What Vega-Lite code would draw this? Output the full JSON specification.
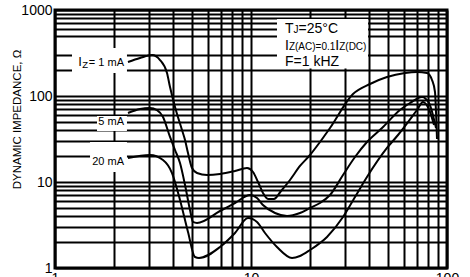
{
  "$schema": "https://vega.github.io/schema/vega-lite/v6.json",
  "width": 392,
  "height": 258,
  "autosize": "none",
  "padding": {"left": 55, "top": 10, "right": 23, "bottom": 9},
  "background": "white",
  "config": {
    "font": "Liberation Sans",
    "view": {"stroke": "black", "strokeWidth": 3},
    "axis": {
      "gridColor": "black", "gridWidth": 2, "gridOpacity": 1,
      "domain": false, "ticks": false,
      "labelFont": "Liberation Sans", "labelFontSize": 14, "labelColor": "black",
      "labelPadding": 3, "labelOverlap": false, "labelFlush": false
    }
  },
  "datasets": {
    "curves": [
      {"series": "1mA", "v": 2.357, "z": 248.5}, {"series": "1mA", "v": 2.715, "z": 276.6}, {"series": "1mA", "v": 3.126, "z": 299.7},
      {"series": "1mA", "v": 3.434, "z": 262.1}, {"series": "1mA", "v": 3.728, "z": 185.1}, {"series": "1mA", "v": 3.862, "z": 127.2},
      {"series": "1mA", "v": 4.096, "z": 74.5}, {"series": "1mA", "v": 4.446, "z": 40.2}, {"series": "1mA", "v": 4.607, "z": 30.8},
      {"series": "1mA", "v": 4.771, "z": 21.7}, {"series": "1mA", "v": 5.0, "z": 14.55}, {"series": "1mA", "v": 5.303, "z": 12.72},
      {"series": "1mA", "v": 5.965, "z": 12.06}, {"series": "1mA", "v": 6.948, "z": 12.39}, {"series": "1mA", "v": 8.286, "z": 13.43},
      {"series": "1mA", "v": 9.541, "z": 14.55}, {"series": "1mA", "v": 10.24, "z": 13.07}, {"series": "1mA", "v": 10.86, "z": 10.0},
      {"series": "1mA", "v": 11.51, "z": 7.45}, {"series": "1mA", "v": 12.21, "z": 6.35}, {"series": "1mA", "v": 13.1, "z": 6.35},
      {"series": "1mA", "v": 14.23, "z": 7.86}, {"series": "1mA", "v": 15.81, "z": 10.55}, {"series": "1mA", "v": 17.78, "z": 15.35},
      {"series": "1mA", "v": 20.0, "z": 20.6}, {"series": "1mA", "v": 22.49, "z": 29.18}, {"series": "1mA", "v": 25.3, "z": 42.46},
      {"series": "1mA", "v": 33.14, "z": 105.5}, {"series": "1mA", "v": 40.47, "z": 137.9}, {"series": "1mA", "v": 49.41, "z": 166.3},
      {"series": "1mA", "v": 61.06, "z": 185.1}, {"series": "1mA", "v": 70.29, "z": 190.2}, {"series": "1mA", "v": 79.07, "z": 185.1},
      {"series": "1mA", "v": 83.85, "z": 153.5}, {"series": "1mA", "v": 86.86, "z": 111.3}, {"series": "1mA", "v": 87.88, "z": 65.2},
      {"series": "1mA", "v": 88.92, "z": 31.6},
      {"series": "5mA", "v": 2.357, "z": 63.4}, {"series": "5mA", "v": 2.715, "z": 70.6}, {"series": "5mA", "v": 3.052, "z": 72.5},
      {"series": "5mA", "v": 3.314, "z": 68.7}, {"series": "5mA", "v": 3.556, "z": 57.0}, {"series": "5mA", "v": 3.862, "z": 33.4},
      {"series": "5mA", "v": 4.096, "z": 23.56}, {"series": "5mA", "v": 4.343, "z": 16.63}, {"series": "5mA", "v": 4.607, "z": 9.23},
      {"series": "5mA", "v": 4.884, "z": 4.73}, {"series": "5mA", "v": 5.059, "z": 3.43}, {"series": "5mA", "v": 5.303, "z": 3.34},
      {"series": "5mA", "v": 6.948, "z": 4.6}, {"series": "5mA", "v": 8.286, "z": 5.7}, {"series": "5mA", "v": 9.884, "z": 7.06},
      {"series": "5mA", "v": 10.73, "z": 6.52}, {"series": "5mA", "v": 11.51, "z": 5.4}, {"series": "5mA", "v": 13.26, "z": 4.36},
      {"series": "5mA", "v": 15.27, "z": 4.02}, {"series": "5mA", "v": 17.78, "z": 4.36}, {"series": "5mA", "v": 20.0, "z": 4.99},
      {"series": "5mA", "v": 22.49, "z": 5.7}, {"series": "5mA", "v": 25.3, "z": 7.06}, {"series": "5mA", "v": 29.47, "z": 12.06},
      {"series": "5mA", "v": 33.93, "z": 19.53}, {"series": "5mA", "v": 39.06, "z": 29.18}, {"series": "5mA", "v": 46.6, "z": 42.46},
      {"series": "5mA", "v": 57.56, "z": 68.7}, {"series": "5mA", "v": 64.75, "z": 82.9}, {"series": "5mA", "v": 74.55, "z": 97.4},
      {"series": "5mA", "v": 80.94, "z": 82.9}, {"series": "5mA", "v": 87.88, "z": 42.46},
      {"series": "20mA", "v": 2.357, "z": 19.01}, {"series": "20mA", "v": 3.052, "z": 20.6}, {"series": "20mA", "v": 3.556, "z": 18.03},
      {"series": "20mA", "v": 3.954, "z": 12.72}, {"series": "20mA", "v": 4.343, "z": 6.18}, {"series": "20mA", "v": 4.771, "z": 2.62},
      {"series": "20mA", "v": 5.179, "z": 1.342}, {"series": "20mA", "v": 5.429, "z": 1.307}, {"series": "20mA", "v": 6.948, "z": 1.755},
      {"series": "20mA", "v": 8.286, "z": 2.553}, {"series": "20mA", "v": 9.654, "z": 3.815}, {"series": "20mA", "v": 10.73, "z": 3.43},
      {"series": "20mA", "v": 11.79, "z": 2.553}, {"series": "20mA", "v": 13.57, "z": 1.755}, {"series": "20mA", "v": 16.19, "z": 1.307},
      {"series": "20mA", "v": 17.78, "z": 1.379}, {"series": "20mA", "v": 20.0, "z": 1.619}, {"series": "20mA", "v": 24.42, "z": 2.293},
      {"series": "20mA", "v": 29.47, "z": 3.917}, {"series": "20mA", "v": 33.93, "z": 6.69}, {"series": "20mA", "v": 39.06, "z": 11.43},
      {"series": "20mA", "v": 49.41, "z": 24.86}, {"series": "20mA", "v": 56.23, "z": 35.2}, {"series": "20mA", "v": 70.29, "z": 68.7},
      {"series": "20mA", "v": 75.45, "z": 85.2}, {"series": "20mA", "v": 81.9, "z": 65.2}, {"series": "20mA", "v": 85.84, "z": 46.0}
    ],
    "boxes": [
      {"v": 1.221, "v2": 2.329, "z": 185.1, "z2": 361.5},
      {"v": 1.638, "v2": 2.329, "z": 39.2, "z2": 58.5},
      {"v": 1.509, "v2": 2.329, "z": 13.07, "z2": 29.2},
      {"v": 13.57, "v2": 39.54, "z": 209, "z2": 785}
    ],
    "big": [
      {"v": 14.91, "z": 540.3, "text": "T"},
      {"v": 17.48, "z": 540.3, "text": "=25°C"},
      {"v": 14.91, "z": 342.7, "text": "I"},
      {"v": 26.92, "z": 342.7, "text": "I"},
      {"v": 14.91, "z": 223.3, "text": "F=1 kHZ"}
    ],
    "small": [
      {"v": 16.49, "z": 540.3, "text": "J"},
      {"v": 15.61, "z": 342.7, "text": "Z(AC)=0.1"},
      {"v": 28.18, "z": 342.7, "text": "Z(DC)"}
    ],
    "lblI": [{"v": 1.373, "z": 223.3, "text": "I"}],
    "lblZ": [{"v": 1.473, "z": 223.3, "text": "Z"}],
    "lblTail": [
      {"v": 2.249, "z": 223.3, "text": "= 1 mA"},
      {"v": 2.249, "z": 46.0, "text": "5 mA"},
      {"v": 2.249, "z": 15.76, "text": "20 mA"}
    ]
  },
  "encoding": {
    "x": {
      "field": "v", "type": "quantitative",
      "scale": {"type": "log", "domain": [1, 100], "nice": false},
      "axis": {
        "title": null,
        "values": [1, 2, 3, 4, 5, 6, 7, 8, 9, 10, 20, 30, 40, 50, 60, 70, 80, 90, 100],
        "labelExpr": "datum.value == 1 || datum.value == 10 || datum.value == 100 ? '' + datum.value : ''"
      }
    },
    "y": {
      "field": "z", "type": "quantitative",
      "scale": {"type": "log", "domain": [1, 1000], "nice": false},
      "axis": {
        "title": "DYNAMIC IMPEDANCE, Ω",
        "titleFont": "Liberation Sans", "titleFontSize": 11.5, "titleFontWeight": "normal", "titleColor": "black",
        "titleX": -38, "titleY": 109, "titleAngle": -90, "titleAlign": "center", "titleBaseline": "middle",
        "values": [1, 2, 3, 4, 5, 6, 7, 8, 9, 10, 20, 30, 40, 50, 60, 70, 80, 90, 100, 200, 300, 500, 600, 700, 800, 900, 1000],
        "labelExpr": "datum.value == 1 || datum.value == 10 || datum.value == 100 || datum.value == 1000 ? '' + datum.value : ''"
      }
    }
  },
  "layer": [
    {
      "data": {"name": "boxes"},
      "mark": {"type": "rect", "fill": "white", "stroke": null},
      "encoding": {"x2": {"field": "v2"}, "y2": {"field": "z2"}}
    },
    {
      "data": {"name": "curves"},
      "mark": {"type": "line", "color": "black", "strokeWidth": 2, "interpolate": "monotone"},
      "encoding": {"detail": {"field": "series"}}
    },
    {
      "data": {"name": "big"},
      "mark": {"type": "text", "align": "left", "baseline": "alphabetic", "fontSize": 14, "font": "Liberation Sans", "color": "black"},
      "encoding": {"text": {"field": "text"}}
    },
    {
      "data": {"name": "small"},
      "mark": {"type": "text", "align": "left", "baseline": "alphabetic", "fontSize": 10, "font": "Liberation Sans", "color": "black"},
      "encoding": {"text": {"field": "text"}}
    },
    {
      "data": {"name": "lblI"},
      "mark": {"type": "text", "align": "right", "baseline": "alphabetic", "fontSize": 13, "font": "Liberation Sans", "color": "black"},
      "encoding": {"text": {"field": "text"}}
    },
    {
      "data": {"name": "lblZ"},
      "mark": {"type": "text", "align": "right", "baseline": "alphabetic", "fontSize": 9.5, "dy": 2, "font": "Liberation Sans", "color": "black"},
      "encoding": {"text": {"field": "text"}}
    },
    {
      "data": {"name": "lblTail"},
      "mark": {"type": "text", "align": "right", "baseline": "alphabetic", "fontSize": 11, "font": "Liberation Sans", "color": "black"},
      "encoding": {"text": {"field": "text"}}
    }
  ]
}
